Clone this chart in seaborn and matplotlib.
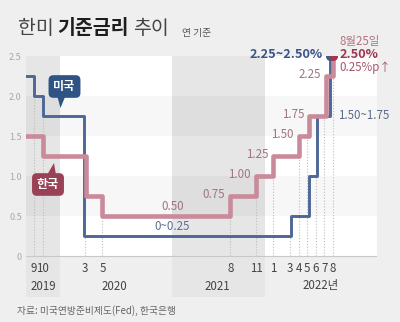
import matplotlib
matplotlib.use("Agg")
import matplotlib.pyplot as plt
import seaborn as sns
import numpy as np
import pandas as pd
from matplotlib.patches import Rectangle, Polygon

# ---------------- data ----------------
# x = months counted from 2019-09 (0 = Sep 2019)
us_month = [-1, 0, 1, 5.9, 30.1, 32.2, 33.1, 34.7]
us_rate = [2.25, 2.00, 1.75, 0.25, 0.50, 1.00, 1.75, 2.50]
kr_month = [-1, 1.1, 6.1, 8, 23, 26, 28, 31, 32.2, 34.2, 35]
kr_rate = [1.50, 1.25, 0.75, 0.50, 0.75, 1.00, 1.25, 1.50, 1.75, 2.25, 2.50]
tick_month = [0, 1, 6, 8, 23, 26, 28, 30, 31, 32, 33, 34, 35]
tick_label = ["9", "10", "3", "5", "8", "11", "1", "3", "4", "5", "6", "7", "8"]
year_label = ["2019", "2020", "2021", "2022년"]
y_ticks = [0, 0.5, 1.0, 1.5, 2.0, 2.5]
y_tick_label = ["0", "0.5", "1.0", "1.5", "2.0", "2.5"]

# ---------------- layout / style ----------------
year_pos = [1.05, 9.4, 21.5, 33.6]
shaded_spans = [(-1.0, 3.05), (16.2, 27.1)]
XMIN, XMAX = -0.94, 40.16
YMIN, YMAX = -0.5125, 2.5
BG = "#efefef"
PINK = "#c98a99"
BLUE = "#4d6796"
W, H = 400, 322

sns.set_theme(style="white")
plt.rcParams["font.family"] = ["Noto Sans CJK KR", "DejaVu Sans"]

fig = plt.figure(figsize=(4, 3.22), dpi=100, facecolor=BG)
ax = fig.add_axes([26 / W, 25 / H, 351 / W, 241 / H])
ax.set_facecolor("none")
ax.set_xlim(XMIN, XMAX)
ax.set_ylim(YMIN, YMAX)


def px(x, y):
    return (x / W, 1 - y / H)


# plot background
ax.add_patch(Rectangle((XMIN, 0), XMAX - XMIN, 2.5, color="white", zorder=0, lw=0))
for a, b in shaded_spans:
    ax.add_patch(Rectangle((a, YMIN), b - a, YMAX - YMIN, color="#e6e6e6", zorder=0.5, lw=0))
for lo in (0.5, 1.5):
    ax.add_patch(Rectangle((XMIN, lo), XMAX - XMIN, 0.5, color="black", alpha=0.03, zorder=0.6, lw=0))

ax.axhline(0, color="#c8c8c8", lw=0.8, zorder=3)

# dotted guides at change months
series = [(us_month, us_rate), (kr_month, kr_rate)]
heights = []
for m in tick_month:
    cands = []
    for xs, ys in series:
        for j in range(1, len(xs)):
            if abs(xs[j] - m) < 0.45:
                cands.append(min(ys[j - 1], ys[j]))
    heights.append(max(cands) if cands else 0)
ax.vlines(tick_month, 0, heights, colors="#bdbdbd", linestyles=(0, (1, 1.6)), lw=0.8, zorder=2)

# lines
df_us = pd.DataFrame({"month": us_month, "rate": us_rate})
df_kr = pd.DataFrame({"month": kr_month, "rate": kr_rate})
sns.lineplot(data=df_us, x="month", y="rate", drawstyle="steps-post", color=BLUE,
             lw=2.1, ax=ax, zorder=4)
sns.lineplot(data=df_kr, x="month", y="rate", drawstyle="steps-post", color=PINK,
             lw=3.3, ax=ax, zorder=5)

# end dots
ax.plot([us_month[-1]], [us_rate[-1]], "o", color="#3d5a8c", ms=5.5, zorder=6)
ax.plot([kr_month[-1]], [kr_rate[-1]], "o", color="#a2374f", ms=5.5, zorder=7)

# axis styling
for s in ax.spines.values():
    s.set_visible(False)
ax.set_xlabel("")
ax.set_ylabel("")
ax.set_xticks([])
ax.set_yticks(y_ticks)
ax.set_yticklabels(y_tick_label)
ax.tick_params(axis="y", length=0, pad=3, labelsize=6.5, labelcolor="#a8a8a8")
ax.grid(False)

# month / year labels
for m, lab in zip(tick_month, tick_label):
    ax.text(m, -0.15, lab, ha="center", va="center", fontsize=8.3, color="#444444")
for p, lab in zip(year_pos, year_label):
    ax.text(p, -0.375, lab, ha="center", va="center", fontsize=8.3, color="#444444")

# Korean step labels (2021-2022)
LBL = "#a07380"
for j in range(4, len(kr_month) - 1):
    ax.text(kr_month[j] - 0.6, kr_rate[j] + 0.02, f"{kr_rate[j]:.2f}", ha="right",
            va="center", fontsize=8.3, color=LBL, zorder=8)
ax.text(16.2, kr_rate[3] + 0.125, f"{kr_rate[3]:.2f}", ha="center", va="center",
        fontsize=8.3, color=LBL)
ax.text(16.2, us_rate[3] + 0.125, f"0~{us_rate[3]:.2f}", ha="center", va="center",
        fontsize=8.3, color="#5b6f95")
ax.text(35.6, us_rate[-2] + 0.01, f"1.50~{us_rate[-2]:.2f}", ha="left", va="center",
        fontsize=8.3, color="#5a6b8c")

# end annotations
ax.text(33.85, 2.525, f"2.25~{us_rate[-1]:.2f}%", ha="right", va="center", fontsize=9.2,
        fontweight="bold", color="#3a5489")
ax.text(35.75, 2.525, f"{kr_rate[-1]:.2f}%", ha="left", va="center", fontsize=9.2,
        fontweight="bold", color="#9e3650")
ax.text(35.75, 2.675, "8월25일", ha="left", va="center", fontsize=8.3, color="#b57381")
ax.text(35.75, 2.36, "0.25%p↑", ha="left", va="center", fontsize=8.3, color="#a5566a")

# callout boxes
fig.text(*px(64.5, 86.5), "미국", ha="center", va="center", fontsize=8.7, fontweight="bold",
         color="white",
         bbox=dict(boxstyle="round,pad=0.4,rounding_size=0.4", fc="#2f5385", ec="none"))
fig.patches.append(Polygon([px(57.5, 97), px(65, 97), px(60.5, 108)], closed=True,
                           fc="#2f5385", ec="none", transform=fig.transFigure, figure=fig))
fig.text(*px(48, 184.5), "한국", ha="center", va="center", fontsize=8.7, fontweight="bold",
         color="white",
         bbox=dict(boxstyle="round,pad=0.4,rounding_size=0.4", fc="#9a4255", ec="none"))
fig.patches.append(Polygon([px(47, 175), px(56, 175), px(54, 163)], closed=True,
                           fc="#9a4255", ec="none", transform=fig.transFigure, figure=fig))

# title
fig.text(*px(18, 29), "한미", ha="left", va="center", fontsize=14, color="#444444",
         fontweight="light")
fig.text(*px(57, 29), "기준금리", ha="left", va="center", fontsize=14, color="#1e1e1e",
         fontweight="bold")
fig.text(*px(133, 29), "추이", ha="left", va="center", fontsize=14, color="#444444",
         fontweight="light")
fig.text(*px(182, 33), "연 기준", ha="left", va="center", fontsize=7, color="#555555")

# source
fig.text(*px(17, 311), "자료: 미국연방준비제도(Fed), 한국은행", ha="left", va="center",
         fontsize=7, color="#666666")

fig.savefig("out.png", dpi=100, facecolor=BG)
